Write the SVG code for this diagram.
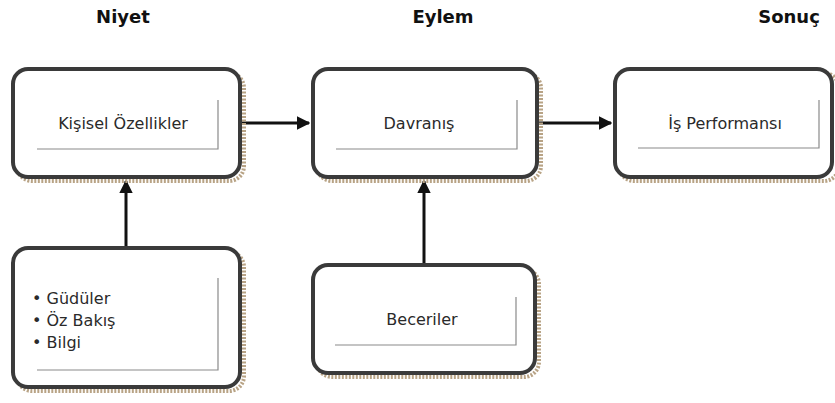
<svg xmlns="http://www.w3.org/2000/svg" width="835" height="403" viewBox="0 0 835 403">
  <style>
    .shadow { fill: none; stroke: #b8a385; stroke-width: 4; stroke-dasharray: 2 1.5; }
    .box { fill: #ffffff; stroke: #3a3a3a; stroke-width: 4; }
    .inner { fill: none; stroke: #8a8a8a; stroke-width: 1.2; }
    .label { font-family: "DejaVu Sans", Verdana, sans-serif; font-size: 16px; fill: #2a2a2a; text-anchor: middle; }
    .item { font-family: "DejaVu Sans", Verdana, sans-serif; font-size: 16px; fill: #2a2a2a; }
    .head { font-family: "DejaVu Sans", Verdana, sans-serif; font-size: 18px; font-weight: bold; fill: #111; text-anchor: middle; }
    .conn { stroke: #111; stroke-width: 3; fill: none; }
  </style>
  <defs>
    <marker id="arrow" viewBox="0 0 10 10" refX="9" refY="5" markerWidth="4.5" markerHeight="4.5" orient="auto" markerUnits="strokeWidth">
      <path d="M0,0 L10,5 L0,10 z" fill="#111"/>
    </marker>
  </defs>

  <rect width="835" height="403" fill="#ffffff"/>

  <!-- column headings -->
  <g id="headings">
    <text class="head" x="123" y="23">Niyet</text>
    <text class="head" x="443" y="23">Eylem</text>
    <text class="head" x="789" y="23">Sonuç</text>
  </g>

  <!-- connectors -->
  <g id="connectors">
    <line class="conn" x1="240" y1="123" x2="309" y2="123" marker-end="url(#arrow)"/>
    <line class="conn" x1="537" y1="123" x2="611" y2="123" marker-end="url(#arrow)"/>
    <line class="conn" x1="126" y1="247" x2="126" y2="181" marker-end="url(#arrow)"/>
    <line class="conn" x1="424" y1="264" x2="424" y2="181" marker-end="url(#arrow)"/>
  </g>

  <g id="kisisel-ozellikler">
    <rect class="shadow" x="17" y="73" width="227" height="108" rx="15"/>
    <rect class="box" x="13" y="69" width="227" height="108" rx="15"/>
    <polyline class="inner" points="37,149 218,149 218,100"/>
    <text class="label" x="123" y="129">Kişisel Özellikler</text>
  </g>

  <g id="davranis">
    <rect class="shadow" x="317" y="73" width="224" height="108" rx="15"/>
    <rect class="box" x="313" y="69" width="224" height="108" rx="15"/>
    <polyline class="inner" points="336,149 517,149 517,100"/>
    <text class="label" x="419" y="129">Davranış</text>
  </g>

  <g id="is-performansi">
    <rect class="shadow" x="619" y="73" width="220" height="108" rx="15"/>
    <rect class="box" x="615" y="69" width="217" height="108" rx="15"/>
    <polyline class="inner" points="638,148 819,148 819,100"/>
    <text class="label" x="725" y="129">İş Performansı</text>
  </g>

  <g id="beceriler">
    <rect class="shadow" x="317" y="269" width="222" height="108" rx="15"/>
    <rect class="box" x="313" y="265" width="222" height="108" rx="15"/>
    <polyline class="inner" points="335,345 516,345 516,297"/>
    <text class="label" x="422" y="325">Beceriler</text>
  </g>

  <g id="girdiler">
    <rect class="shadow" x="17" y="252" width="227" height="139" rx="15"/>
    <rect class="box" x="13" y="248" width="227" height="139" rx="15"/>
    <polyline class="inner" points="37,370 218,370 218,278"/>
    <text class="item" x="32" y="304">• Güdüler</text>
    <text class="item" x="32" y="326">• Öz Bakış</text>
    <text class="item" x="32" y="348">• Bilgi</text>
  </g>
</svg>
